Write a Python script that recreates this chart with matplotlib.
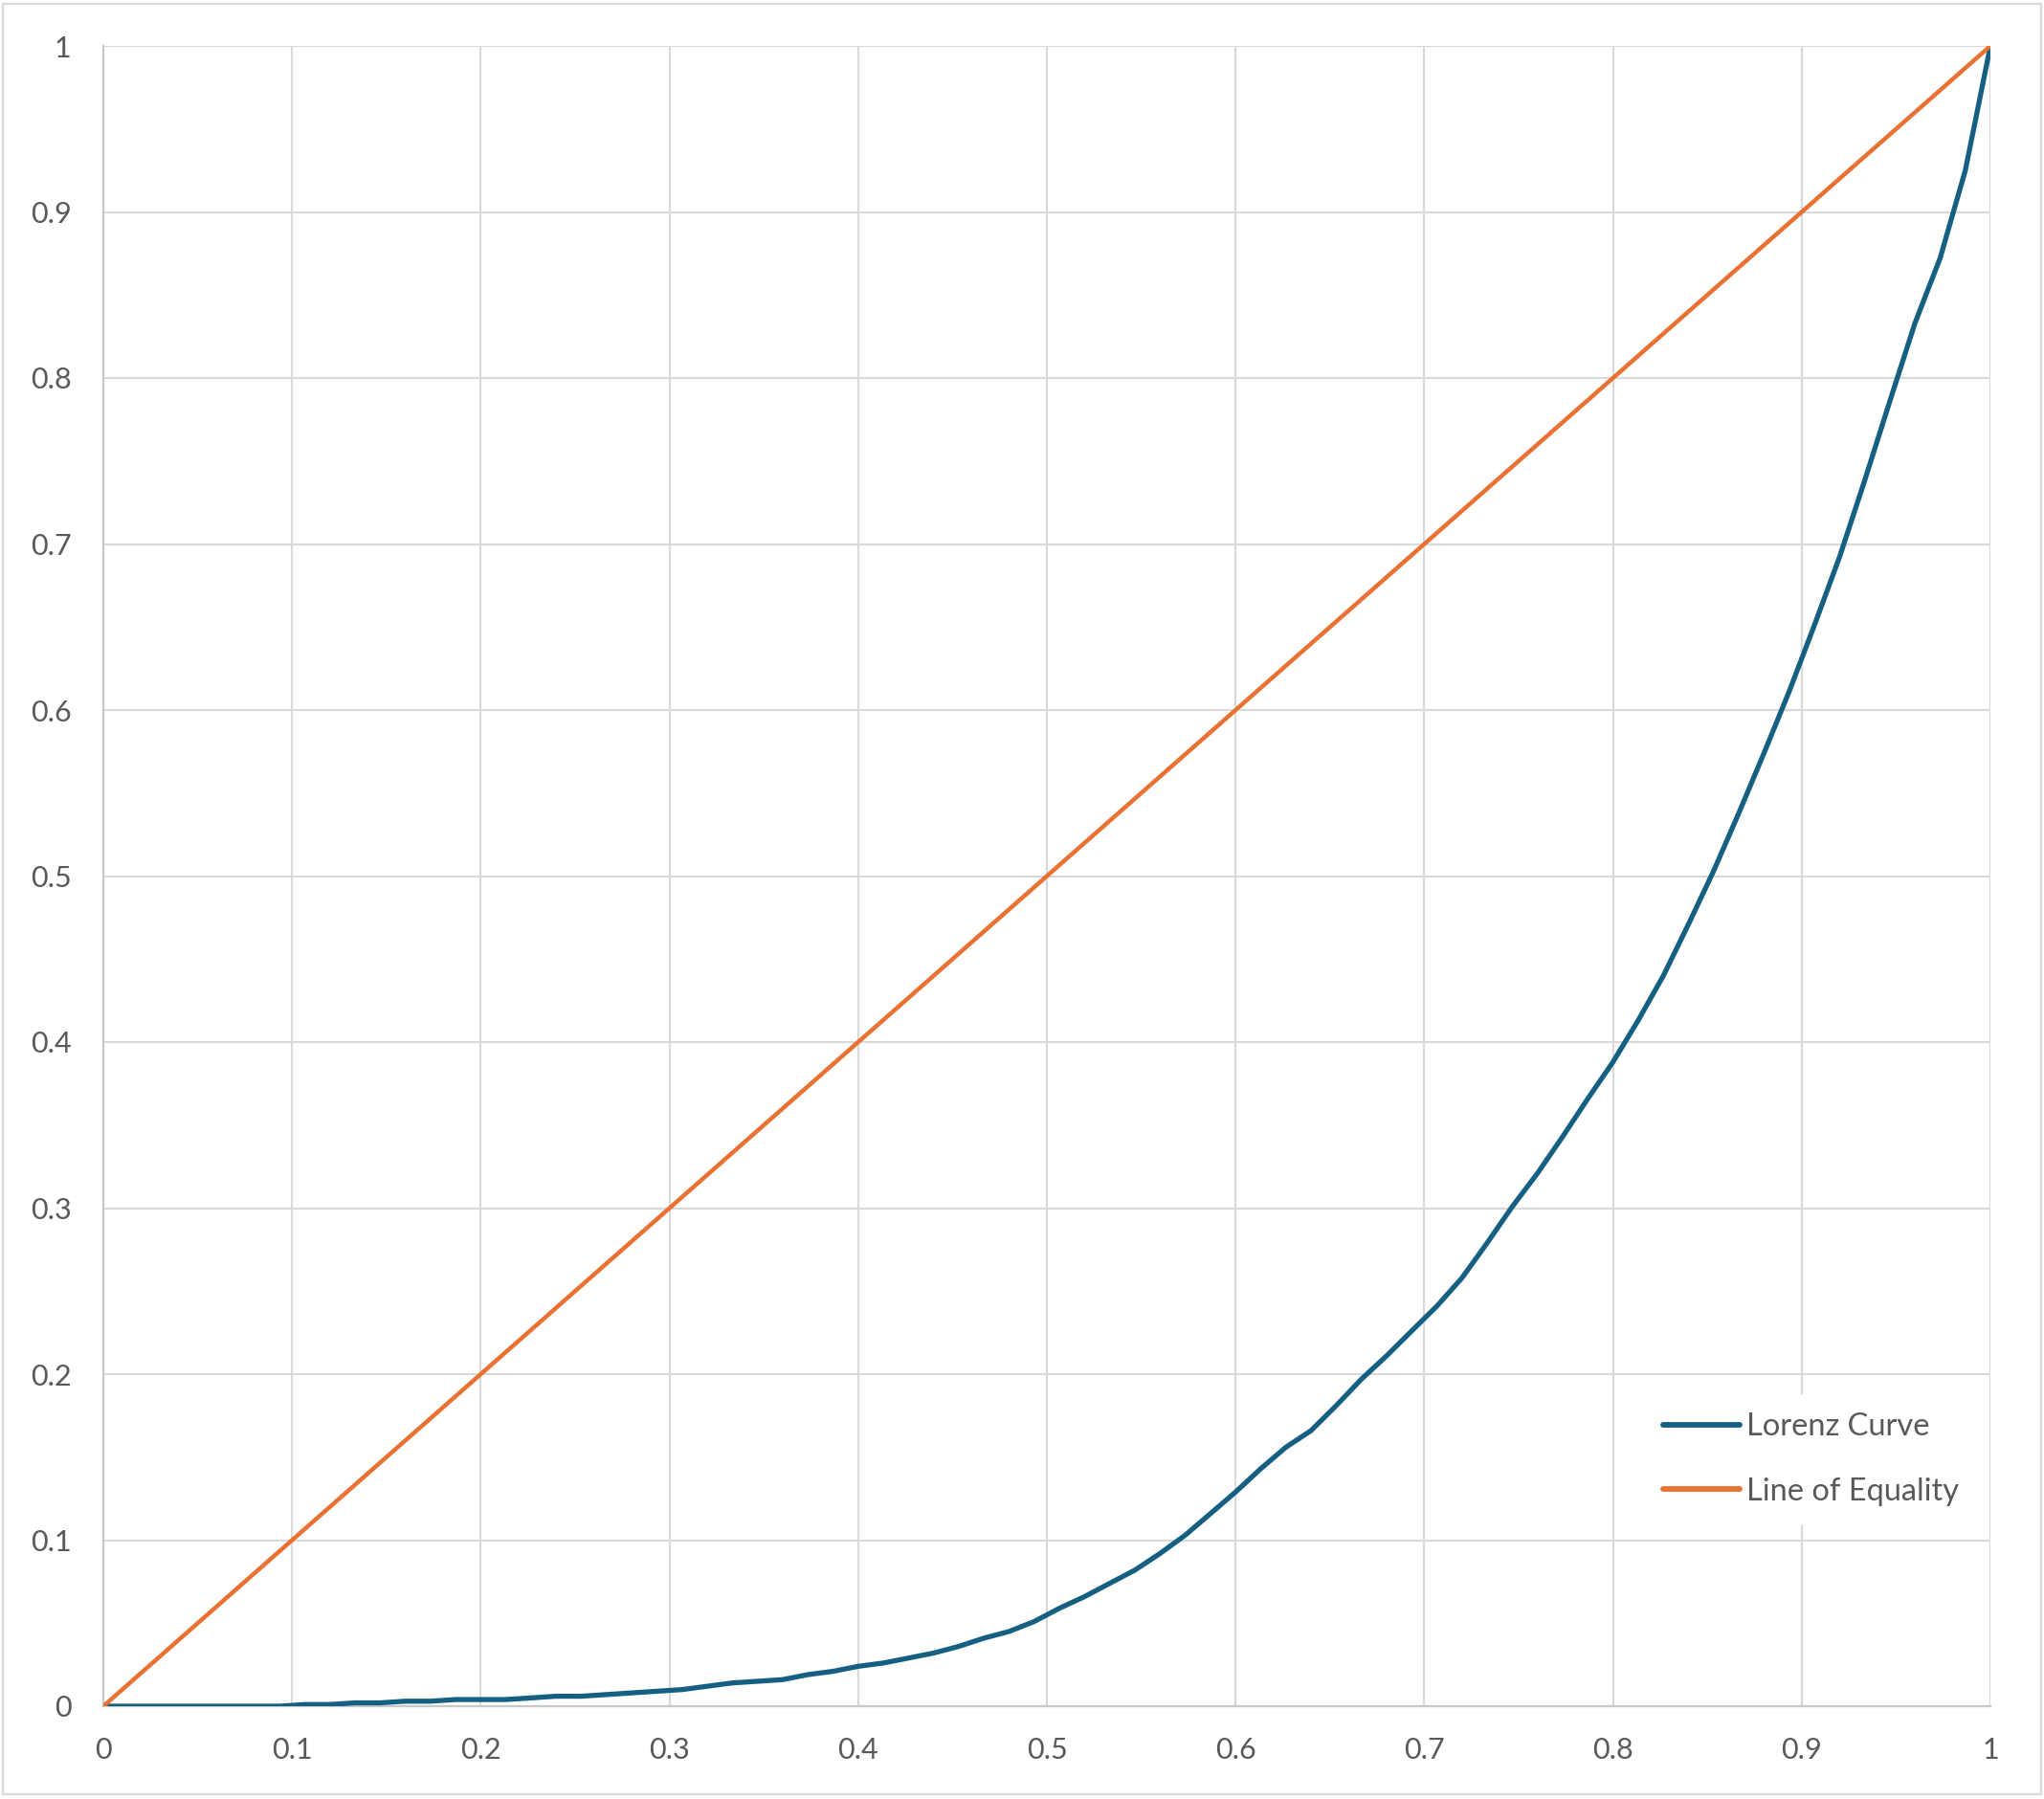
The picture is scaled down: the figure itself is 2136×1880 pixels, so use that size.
import matplotlib
matplotlib.use("Agg")
import matplotlib.pyplot as plt
from matplotlib.patches import Rectangle

# cumulative share of population (x) and of income (Lorenz curve)
population_share = [
    0.0, 0.0133, 0.0267, 0.04, 0.0533, 0.0667, 0.08, 0.0933, 0.1067, 0.12,
    0.1333, 0.1467, 0.16, 0.1733, 0.1867, 0.2, 0.2133, 0.2267, 0.24, 0.2533,
    0.2667, 0.28, 0.2933, 0.3067, 0.32, 0.3333, 0.3467, 0.36, 0.3733, 0.3867,
    0.4, 0.4133, 0.4267, 0.44, 0.4533, 0.4667, 0.48, 0.4933, 0.5067, 0.52,
    0.5333, 0.5467, 0.56, 0.5733, 0.5867, 0.6, 0.6133, 0.6267, 0.64, 0.6533,
    0.6667, 0.68, 0.6933, 0.7067, 0.72, 0.7333, 0.7467, 0.76, 0.7733, 0.7867,
    0.8, 0.8133, 0.8267, 0.84, 0.8533, 0.8667, 0.88, 0.8933, 0.9067, 0.92,
    0.9333, 0.9467, 0.96, 0.9733, 0.9867, 1.0,
]
lorenz = [
    0.0, 0.0, 0.0, 0.0, 0.0, 0.0, 0.0, 0.0, 0.001, 0.001,
    0.002, 0.002, 0.003, 0.003, 0.004, 0.004, 0.004, 0.005, 0.006, 0.006,
    0.007, 0.008, 0.009, 0.010, 0.012, 0.014, 0.015, 0.016, 0.019, 0.021,
    0.024, 0.026, 0.029, 0.032, 0.036, 0.041, 0.045, 0.051, 0.059, 0.066,
    0.074, 0.082, 0.092, 0.103, 0.116, 0.129, 0.143, 0.156, 0.166, 0.181,
    0.197, 0.211, 0.226, 0.241, 0.258, 0.279, 0.301, 0.321, 0.343, 0.366,
    0.388, 0.413, 0.440, 0.471, 0.503, 0.538, 0.574, 0.611, 0.651, 0.692,
    0.738, 0.786, 0.833, 0.872, 0.925, 1.0,
]
equality_x = [0.0, 1.0]
equality = [0.0, 1.0]

ticks = [0, 0.1, 0.2, 0.3, 0.4, 0.5, 0.6, 0.7, 0.8, 0.9, 1]
tick_labels = ["0", "0.1", "0.2", "0.3", "0.4", "0.5", "0.6", "0.7", "0.8", "0.9", "1"]

plt.rcParams['font.family'] = ['Lato', 'DejaVu Sans']

fig = plt.figure(figsize=(21.36, 18.8), dpi=100)
ax = fig.add_axes([108 / 2136, 97 / 1880, 1972 / 2136, 1735 / 1880])

# outer chart border
fig.patches.append(Rectangle((3 / 2136, 5 / 1880), 2130 / 2136, 1871 / 1880,
                             transform=fig.transFigure, fill=False,
                             edgecolor="#d9d9d9", linewidth=1.6))

ax.plot(population_share, lorenz, color="#156082", linewidth=3.8,
        label="Lorenz Curve", solid_capstyle="round", zorder=3)
ax.plot(equality_x, equality, color="#E97132", linewidth=3.2,
        label="Line of Equality", solid_capstyle="round", zorder=3)

ax.set_xlim(0, 1)
ax.set_ylim(0, 1)
ax.set_xticks(ticks)
ax.set_xticklabels(tick_labels)
ax.set_yticks(ticks)
ax.set_yticklabels(tick_labels)
ax.grid(True, color="#d9d9d9", linewidth=1.5)
ax.set_axisbelow(True)
for side in ["top", "right"]:
    ax.spines[side].set_visible(False)
for side in ["left", "bottom"]:
    ax.spines[side].set_color("#c8c8c8")
    ax.spines[side].set_linewidth(1.6)
ax.tick_params(axis="both", length=0, labelsize=22, labelcolor="#595959")
ax.tick_params(axis="x", pad=23)
ax.tick_params(axis="y", pad=24)

leg = ax.legend(loc="center left", bbox_to_anchor=(1702 / 2136, 1 - 1525 / 1880),
                bbox_transform=fig.transFigure, fontsize=23.5, frameon=True,
                facecolor="white", edgecolor="none", framealpha=1,
                handlelength=2.45, handletextpad=0.22, labelspacing=1.15,
                borderpad=0.6, fancybox=False)
for t in leg.get_texts():
    t.set_color("#595959")
for h in leg.get_lines():
    h.set_linewidth(4.2)

fig.savefig("out.png", dpi=100, facecolor="white")
